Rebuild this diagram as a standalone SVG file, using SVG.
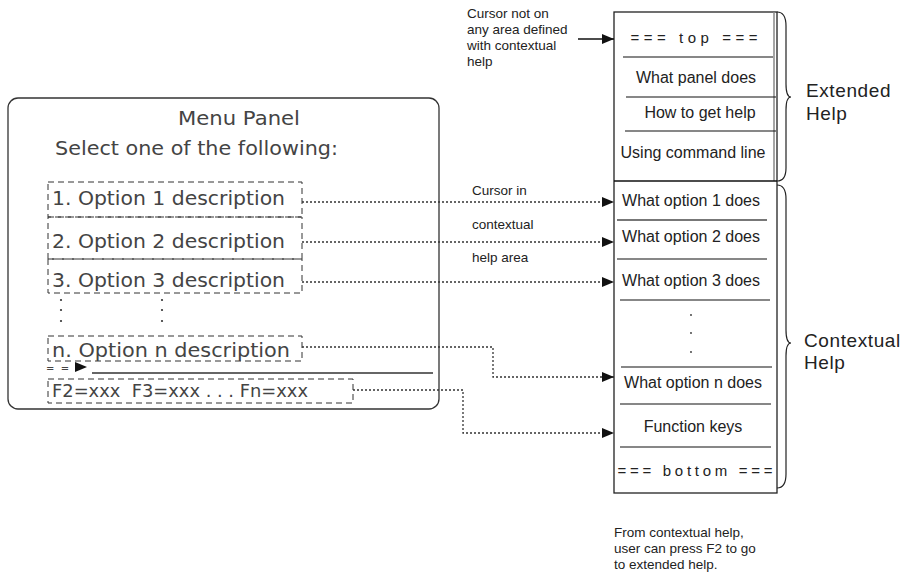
<svg xmlns="http://www.w3.org/2000/svg" width="904" height="573" viewBox="0 0 904 573">
<style>
.menu{font-family:"DejaVu Sans","Liberation Sans",sans-serif;fill:#444;}
.hv{font-family:"Liberation Sans",Arial,sans-serif;fill:#222;}
.dash{fill:none;stroke:#333;stroke-width:1;stroke-dasharray:6,4;}
.dot{fill:none;stroke:#333;stroke-width:1.3;stroke-dasharray:2,2;}
.rule{stroke:#111;stroke-width:1.2;}
.brace{fill:none;stroke:#222;stroke-width:1.2;}
</style>
<defs>
<marker id="ah" viewBox="0 0 12 10" refX="12" refY="5" markerWidth="12" markerHeight="10" markerUnits="userSpaceOnUse" orient="auto">
<path d="M0,0 L12,5 L0,10 Z" fill="#111"/>
</marker>
</defs>

<g id="menu-panel">
<rect x="8" y="98" width="431" height="311" rx="10" ry="10" fill="none" stroke="#333" stroke-width="1.3"/>
<text class="menu" x="178" y="125" font-size="19" textLength="122" lengthAdjust="spacingAndGlyphs">Menu Panel</text>
<text class="menu" x="55" y="155" font-size="19" textLength="283" lengthAdjust="spacingAndGlyphs">Select one of the following:</text>
</g>

<g id="option1">
<rect class="dash" x="48" y="182" width="254" height="35"/>
<text class="menu" x="52" y="205" font-size="20" textLength="233" lengthAdjust="spacingAndGlyphs">1. Option 1 description</text>
</g>
<g id="option2">
<rect class="dash" x="48" y="217" width="254" height="42"/>
<text class="menu" x="52" y="248" font-size="20" textLength="233" lengthAdjust="spacingAndGlyphs">2. Option 2 description</text>
</g>
<g id="option3">
<rect class="dash" x="48" y="259" width="254" height="34"/>
<text class="menu" x="52" y="287" font-size="20" textLength="233" lengthAdjust="spacingAndGlyphs">3. Option 3 description</text>
</g>
<g id="option-dots" fill="#333">
<circle cx="61" cy="300" r="1.1"/><circle cx="61" cy="310" r="1.1"/><circle cx="61" cy="321" r="1.1"/>
<circle cx="162" cy="300" r="1.1"/><circle cx="162" cy="310" r="1.1"/><circle cx="162" cy="321" r="1.1"/>
</g>
<g id="optionn">
<rect class="dash" x="48" y="336" width="254" height="25"/>
<text class="menu" x="52" y="357" font-size="20" textLength="238" lengthAdjust="spacingAndGlyphs">n. Option n description</text>
</g>
<g id="command-line">
<text class="menu" x="46" y="372" font-size="10" style="white-space:pre">=  =</text>
<path d="M75,362 L87,367 L75,372 Z" fill="#111"/>
<line x1="92" y1="373" x2="433" y2="373" stroke="#666" stroke-width="2"/>
</g>
<g id="fkeys">
<rect class="dash" x="48" y="379" width="305" height="24"/>
<text class="menu" x="52" y="397" font-size="18" textLength="256" lengthAdjust="spacingAndGlyphs" style="white-space:pre">F2=xxx  F3=xxx . . . Fn=xxx</text>
</g>

<g id="help-panel">
<rect x="614" y="12" width="163" height="481" fill="none" stroke="#222" stroke-width="1.3"/>
<line x1="774" y1="12" x2="774" y2="181" stroke="#888" stroke-width="1.5"/>
<line x1="614" y1="181" x2="777" y2="181" stroke="#111" stroke-width="1.5"/>
<line class="rule" x1="623" y1="57" x2="773" y2="57"/>
<line class="rule" x1="626" y1="97" x2="776" y2="97"/>
<line class="rule" x1="625" y1="131" x2="776" y2="131"/>
<line x1="617" y1="220" x2="767" y2="220" stroke="#777" stroke-width="2"/>
<line class="rule" x1="617" y1="259" x2="767" y2="259"/>
<line class="rule" x1="620" y1="300" x2="770" y2="300"/>
<line class="rule" x1="621" y1="367" x2="772" y2="367"/>
<line class="rule" x1="620" y1="404" x2="771" y2="404"/>
<line class="rule" x1="620" y1="447" x2="771" y2="447"/>
<g class="hv" font-size="16" text-anchor="middle">
<text x="694" y="43" font-size="15" textLength="127" lengthAdjust="spacing">=== top ===</text>
<text x="696" y="83">What panel does</text>
<text x="700" y="118">How to get help</text>
<text x="693" y="158">Using command line</text>
<text x="691" y="206">What option 1 does</text>
<text x="691" y="242">What option 2 does</text>
<text x="691" y="286">What option 3 does</text>
<text x="693" y="388">What option n does</text>
<text x="693" y="432">Function keys</text>
<text x="695" y="476" font-size="15" textLength="155" lengthAdjust="spacing">=== bottom ===</text>
</g>
<g fill="#333">
<circle cx="691" cy="315" r="0.9"/><circle cx="691" cy="333" r="0.9"/><circle cx="691" cy="352" r="0.9"/>
</g>
</g>

<g id="extended-help">
<path class="brace" d="M777,12 Q786,12 786,26 L786,84 Q786,97 791,97 Q786,97 786,110 L786,168 Q786,181 777,181"/>
<text class="hv" x="806" y="97" font-size="19" letter-spacing="0.6">Extended</text>
<text class="hv" x="806" y="120" font-size="19" letter-spacing="0.6">Help</text>
</g>
<g id="contextual-help">
<path class="brace" d="M777,185 Q786,185 786,199 L786,330 Q786,343 791,343 Q786,343 786,356 L786,474 Q786,488 777,488"/>
<text class="hv" x="804" y="347" font-size="19" letter-spacing="0.6">Contextual</text>
<text class="hv" x="804" y="369" font-size="19" letter-spacing="0.6">Help</text>
</g>

<g id="notes" class="hv" font-size="13.5">
<text x="467" y="18">Cursor not on</text>
<text x="467" y="34">any area defined</text>
<text x="467" y="50">with contextual</text>
<text x="467" y="66">help</text>
<text x="472" y="195">Cursor in</text>
<text x="472" y="229">contextual</text>
<text x="472" y="262">help area</text>
<text x="614" y="537">From contextual help,</text>
<text x="614" y="553">user can press F2 to go</text>
<text x="614" y="569">to extended help.</text>
</g>

<g id="connectors">
<line x1="578" y1="39" x2="614" y2="39" stroke="#111" stroke-width="1.3" marker-end="url(#ah)"/>
<path class="dot" d="M302,202 L614,202" marker-end="url(#ah)"/>
<path class="dot" d="M302,242 L614,242" marker-end="url(#ah)"/>
<path class="dot" d="M302,282 L614,282" marker-end="url(#ah)"/>
<path class="dot" d="M302,347 L493,347 L493,377 L614,377" marker-end="url(#ah)"/>
<path class="dot" d="M353,390 L463,390 L463,433 L614,433" marker-end="url(#ah)"/>
</g>
</svg>
